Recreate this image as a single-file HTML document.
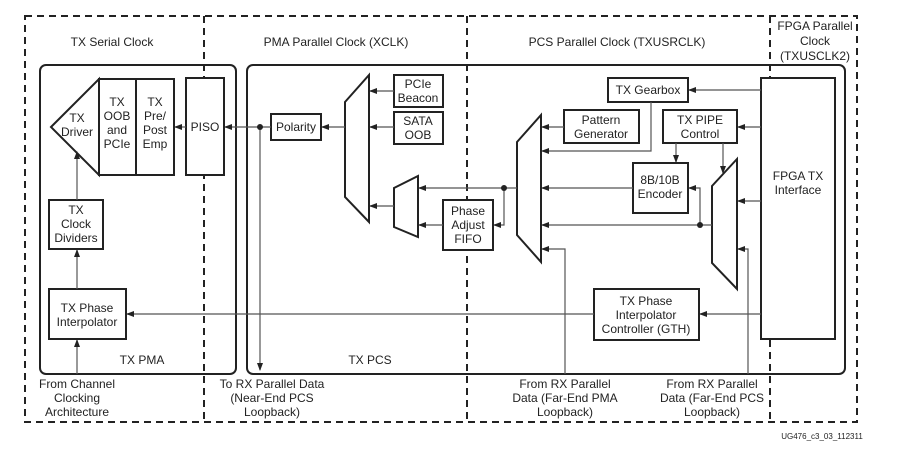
<!DOCTYPE html>
<html><head><meta charset="utf-8"><style>
html,body{margin:0;padding:0;background:#fff;}
svg{display:block;}
text{font-family:"Liberation Sans",Arial,sans-serif;font-size:12px;fill:#222;text-anchor:middle;}
.b{fill:#fff;stroke:#222;stroke-width:2;}
.l{stroke:#555;stroke-width:1.2;fill:none;}
.d{stroke:#222;stroke-width:2;stroke-dasharray:7,5;fill:none;}
</style></head><body>
<svg width="901" height="454" viewBox="0 0 901 454" xmlns="http://www.w3.org/2000/svg">
<defs><marker id="a" markerWidth="8" markerHeight="6" refX="7" refY="3" orient="auto" markerUnits="userSpaceOnUse"><path d="M0,0 L8,3 L0,6 z" fill="#222"/></marker></defs>
<!-- dashed frame -->
<rect x="25" y="16" width="832" height="406" class="d"/>
<line x1="204" y1="16" x2="204" y2="422" class="d"/>
<line x1="467" y1="16" x2="467" y2="422" class="d"/>
<line x1="770" y1="16" x2="770" y2="422" class="d"/>
<!-- section boxes -->
<rect x="40" y="65" width="196" height="309" rx="6" fill="none" stroke="#222" stroke-width="2"/>
<rect x="247" y="65" width="598" height="309" rx="6" fill="none" stroke="#222" stroke-width="2"/>
<!-- headings -->
<text x="112" y="46">TX Serial Clock</text>
<text x="336" y="46">PMA Parallel Clock (XCLK)</text>
<text x="617" y="46">PCS Parallel Clock (TXUSRCLK)</text>
<text x="815" y="30">FPGA Parallel</text>
<text x="815" y="45">Clock</text>
<text x="815" y="60">(TXUSCLK2)</text>
<!-- PMA blocks -->
<polygon points="51,127 99,79 99,175" class="b"/>
<text x="77" y="122">TX</text><text x="77" y="136">Driver</text>
<rect x="99" y="79" width="37" height="96" class="b"/>
<text x="117" y="106">TX</text><text x="117" y="120">OOB</text><text x="117" y="134">and</text><text x="117" y="148">PCIe</text>
<rect x="136" y="79" width="38" height="96" class="b"/>
<text x="155" y="106">TX</text><text x="155" y="120">Pre/</text><text x="155" y="134">Post</text><text x="155" y="148">Emp</text>
<rect x="186" y="78" width="38" height="97" class="b"/>
<text x="205" y="131">PISO</text>
<rect x="49" y="200" width="54" height="49" class="b"/>
<text x="76" y="214">TX</text><text x="76" y="228">Clock</text><text x="76" y="242">Dividers</text>
<rect x="49" y="289" width="77" height="50" class="b"/>
<text x="87" y="312">TX Phase</text><text x="87" y="326">Interpolator</text>
<text x="142" y="364">TX PMA</text>
<!-- PMA-side PCS -->
<rect x="271" y="114" width="50" height="26" class="b"/>
<text x="296" y="131">Polarity</text>
<polygon points="345,102 369,75 369,222 345,197" class="b"/>
<rect x="394" y="75" width="49" height="32" class="b"/>
<text x="418" y="88">PCIe</text><text x="418" y="102">Beacon</text>
<rect x="394" y="112" width="49" height="32" class="b"/>
<text x="418" y="125">SATA</text><text x="418" y="139">OOB</text>
<polygon points="394,188 418,176 418,237 394,227" class="b"/>
<rect x="443" y="200" width="50" height="50" class="b"/>
<text x="468" y="215">Phase</text><text x="468" y="229">Adjust</text><text x="468" y="243">FIFO</text>
<text x="370" y="364">TX PCS</text>
<!-- PCS blocks -->
<polygon points="517,142 541,115 541,262 517,235" class="b"/>
<rect x="608" y="78" width="80" height="24" class="b"/>
<text x="648" y="94">TX Gearbox</text>
<rect x="564" y="110" width="75" height="33" class="b"/>
<text x="601" y="124">Pattern</text><text x="601" y="138">Generator</text>
<rect x="663" y="110" width="74" height="33" class="b"/>
<text x="700" y="124">TX PIPE</text><text x="700" y="138">Control</text>
<rect x="633" y="163" width="55" height="50" class="b"/>
<text x="660" y="184">8B/10B</text><text x="660" y="198">Encoder</text>
<polygon points="712,186 737,159 737,289 712,263" class="b"/>
<rect x="761" y="78" width="74" height="261" class="b"/>
<text x="798" y="180">FPGA TX</text><text x="798" y="194">Interface</text>
<rect x="594" y="289" width="105" height="51" class="b"/>
<text x="646" y="305">TX Phase</text><text x="646" y="319">Interpolator</text><text x="646" y="333">Controller (GTH)</text>
<!-- connectors -->
<line x1="186" y1="127" x2="175" y2="127" class="l" marker-end="url(#a)"/>
<line x1="271" y1="127" x2="225" y2="127" class="l" marker-end="url(#a)"/>
<line x1="260" y1="127" x2="260" y2="370" class="l" marker-end="url(#a)"/>
<circle cx="260" cy="127" r="3" fill="#222"/>
<line x1="345" y1="127" x2="322" y2="127" class="l" marker-end="url(#a)"/>
<line x1="394" y1="91" x2="370" y2="91" class="l" marker-end="url(#a)"/>
<line x1="394" y1="127" x2="370" y2="127" class="l" marker-end="url(#a)"/>
<line x1="394" y1="206" x2="370" y2="206" class="l" marker-end="url(#a)"/>
<line x1="517" y1="188" x2="419" y2="188" class="l" marker-end="url(#a)"/>
<line x1="443" y1="225" x2="419" y2="225" class="l" marker-end="url(#a)"/>
<polyline points="504,188 504,225 494,225" class="l" marker-end="url(#a)"/>
<circle cx="504" cy="188" r="3" fill="#222"/>
<line x1="564" y1="127" x2="542" y2="127" class="l" marker-end="url(#a)"/>
<polyline points="651,102 651,151 542,151" class="l" marker-end="url(#a)"/>
<line x1="633" y1="188" x2="542" y2="188" class="l" marker-end="url(#a)"/>
<line x1="712" y1="225" x2="542" y2="225" class="l" marker-end="url(#a)"/>
<polyline points="700,225 700,188 689,188" class="l" marker-end="url(#a)"/>
<circle cx="700" cy="225" r="3" fill="#222"/>
<polyline points="565,374 565,249 542,249" class="l" marker-end="url(#a)"/>
<polyline points="748,374 748,249 738,249" class="l" marker-end="url(#a)"/>
<line x1="761" y1="90" x2="689" y2="90" class="l" marker-end="url(#a)"/>
<line x1="761" y1="127" x2="738" y2="127" class="l" marker-end="url(#a)"/>
<line x1="676" y1="143" x2="676" y2="162" class="l" marker-end="url(#a)"/>
<line x1="723" y1="143" x2="723" y2="173" class="l" marker-end="url(#a)"/>
<line x1="761" y1="201" x2="738" y2="201" class="l" marker-end="url(#a)"/>
<line x1="761" y1="314" x2="700" y2="314" class="l" marker-end="url(#a)"/>
<line x1="594" y1="314" x2="127" y2="314" class="l" marker-end="url(#a)"/>
<line x1="77" y1="289" x2="77" y2="250" class="l" marker-end="url(#a)"/>
<line x1="77" y1="200" x2="77" y2="152" class="l" marker-end="url(#a)"/>
<line x1="77" y1="374" x2="77" y2="340" class="l" marker-end="url(#a)"/>
<!-- bottom labels -->
<text x="77" y="388">From Channel</text><text x="77" y="402">Clocking</text><text x="77" y="416">Architecture</text>
<text x="272" y="388">To RX Parallel Data</text><text x="272" y="402">(Near-End PCS</text><text x="272" y="416">Loopback)</text>
<text x="565" y="388">From RX Parallel</text><text x="565" y="402">Data (Far-End PMA</text><text x="565" y="416">Loopback)</text>
<text x="712" y="388">From RX Parallel</text><text x="712" y="402">Data (Far-End PCS</text><text x="712" y="416">Loopback)</text>
<text x="822" y="439" style="font-size:8px">UG476_c3_03_112311</text>
</svg>
</body></html>
